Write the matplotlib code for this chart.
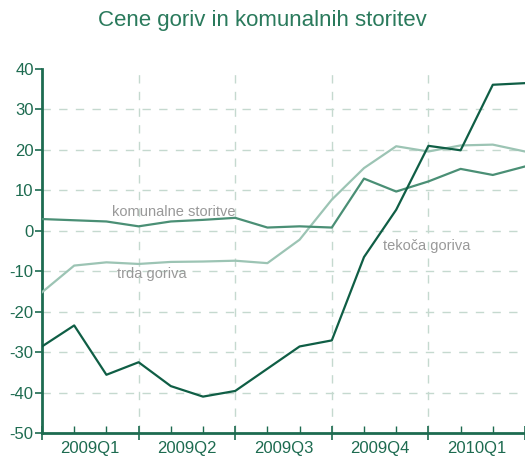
import matplotlib
matplotlib.use("Agg")
import matplotlib.pyplot as plt
from matplotlib.ticker import MultipleLocator

plt.rcParams['font.family'] = ['Liberation Sans', 'DejaVu Sans']
plt.rcParams['axes.unicode_minus'] = False

quarters = ['2009Q1', '2009Q2', '2009Q3', '2009Q4', '2010Q1']
tekoca = [-28.6, -23.4, -35.6, -32.5, -38.4, -41.0, -39.6, -34.1, -28.6, -27.1,
          -6.5, 5.2, 21.0, 19.9, 36.1, 36.5]
komunalne = [2.9, 2.6, 2.3, 1.1, 2.3, 2.7, 3.2, 0.8, 1.1, 0.8,
             12.9, 9.7, 12.2, 15.3, 13.8, 15.9]
trda = [-15.2, -8.6, -7.8, -8.2, -7.7, -7.6, -7.4, -8.0, -2.2, 7.7,
        15.5, 20.9, 19.6, 21.1, 21.3, 19.6]

axis_col = '#1d6b50'
grid_col = '#c5d9cf'

fig = plt.figure(figsize=(5.25, 4.59), dpi=100)
ax = fig.add_axes([0.08, 0.0566, 0.92, 0.7931])

x = range(len(tekoca))
ax.plot(x, trda, color='#9cc4b4', lw=1.6, zorder=3)
ax.plot(x, komunalne, color='#4a8f75', lw=1.6, zorder=3)
ax.plot(x, tekoca, color='#0f5e45', lw=1.6, zorder=4)

ax.set_xlim(0, 15)
ax.set_ylim(-50, 40)

# gridlines
for v in range(-40, 40, 10):
    ax.axhline(v, color=grid_col, lw=1, ls=(0, (6, 6)), zorder=1)
for q in range(3, 15, 3):
    ax.axvline(q, color=grid_col, lw=1, ls=(0, (6, 6)), zorder=1)

ax.yaxis.set_major_locator(MultipleLocator(10))
ax.tick_params(axis='y', colors=axis_col, labelsize=12, length=5, width=1.2,
               direction='out', pad=1)
ax.set_xticks(range(0, 16, 3))
ax.set_xticks(range(16), minor=True)
ax.set_xticklabels([])
ax.tick_params(axis='x', which='major', direction='inout', length=10, width=1.2, colors=axis_col)
ax.tick_params(axis='x', which='minor', direction='in', length=5, width=1, colors=axis_col)
for i, q in enumerate(quarters):
    ax.text(1.5 + 3 * i, -52.0, q, ha='center', va='top', color=axis_col, fontsize=12)

for side in ['top', 'right']:
    ax.spines[side].set_visible(False)
for side in ['left', 'bottom']:
    ax.spines[side].set_color(axis_col)
    ax.spines[side].set_linewidth(2)

ax.text(2.17, 4.7, 'komunalne storitve', color='#999999', fontsize=10.5, va='center')
ax.text(2.33, -10.6, 'trda goriva', color='#999999', fontsize=10.5, va='center')
ax.text(10.6, -3.7, 'tekoča goriva', color='#999999', fontsize=10.5, va='center')

fig.text(0.5, 0.955, 'Cene goriv in komunalnih storitev', ha='center', va='center',
         color='#2a7a5c', fontsize=16)

fig.savefig('out.png', dpi=100)
